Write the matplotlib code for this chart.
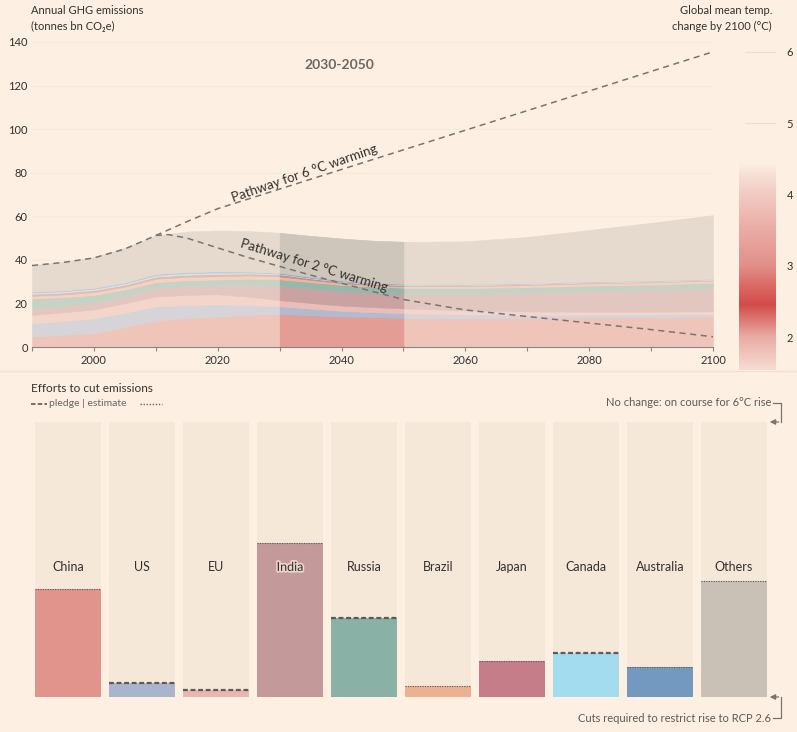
import numpy as np
import matplotlib
matplotlib.use("Agg")
import matplotlib.pyplot as plt
from matplotlib.colors import LinearSegmentedColormap, to_rgb, to_rgba
from matplotlib.lines import Line2D
from matplotlib.patches import FancyArrowPatch
import matplotlib.patheffects as pe

plt.rcParams['font.family'] = ['Lato', 'DejaVu Sans']

# ---------------- data ----------------
years = [1990, 1995, 2000, 2005, 2010, 2015, 2020, 2025, 2030, 2035, 2040, 2045,
         2050, 2060, 2070, 2080, 2090, 2100]
china = [4.8, 5.6, 6.4, 9.2, 12.2, 13.3, 14.0, 14.8, 15.2, 14.6, 14.0, 13.7, 13.4, 13.3, 13.4, 13.6, 13.8, 14.0]
us = [6.1, 6.4, 6.7, 6.6, 6.4, 6.0, 5.6, 4.5, 3.5, 3.0, 2.6, 2.3, 2.1, 1.7, 1.4, 1.3, 1.2, 1.2]
eu = [3.8, 3.9, 4.1, 4.3, 4.6, 4.6, 4.6, 3.8, 2.8, 2.6, 2.4, 2.3, 2.2, 1.8, 1.5, 1.3, 1.2, 1.2]
india = [3.0, 3.0, 3.1, 3.3, 4.0, 4.1, 4.1, 5.4, 6.6, 6.7, 6.7, 6.7, 6.7, 7.6, 8.6, 9.4, 10.0, 10.6]
russia = [4.6, 4.0, 3.6, 3.0, 2.6, 2.7, 2.7, 2.9, 3.0, 2.9, 2.8, 2.8, 2.8, 2.7, 2.6, 2.6, 2.5, 2.5]
brazil = [1.2, 1.2, 1.3, 1.3, 1.5, 1.5, 1.5, 1.4, 1.3, 1.0, 0.8, 0.7, 0.7, 0.8, 0.9, 1.0, 1.0, 1.0]
japan = [0.9, 0.9, 0.9, 0.9, 1.0, 1.0, 1.0, 0.9, 0.9, 0.7, 0.6, 0.5, 0.5, 0.5, 0.5, 0.5, 0.4, 0.4]
canada = [0.6, 0.6, 0.6, 0.6, 0.7, 0.7, 0.7, 0.5, 0.4, 0.3, 0.3, 0.3, 0.3, 0.2, 0.2, 0.2, 0.2, 0.2]
australia = [0.4, 0.4, 0.4, 0.4, 0.5, 0.5, 0.5, 0.4, 0.3, 0.3, 0.3, 0.2, 0.2, 0.2, 0.1, 0.1, 0.1, 0.1]
others = [12.2, 13.0, 14.2, 15.9, 17.7, 18.6, 18.8, 18.6, 18.4, 18.9, 19.3, 19.3, 19.4, 19.7, 21.3, 23.7, 26.6, 29.3]

path6_years = [1990, 1995, 2000, 2005, 2010, 2015, 2020, 2030, 2040, 2050, 2060, 2070, 2080, 2090, 2100]
path6 = [37.4, 38.8, 40.9, 45.0, 51.2, 57.5, 63.5, 72.5, 81.5, 90.5, 99.5, 108.5, 117.5, 126.5, 135.5]
path2_years = [2010, 2012, 2015, 2020, 2025, 2030, 2035, 2040, 2045, 2050, 2060, 2070, 2080, 2090, 2100]
path2 = [51.2, 51.6, 50.0, 45.5, 41.0, 37.0, 33.0, 29.3, 25.5, 21.8, 17.0, 14.0, 11.0, 8.0, 4.7]

countries = ['China', 'US', 'EU', 'India', 'Russia', 'Brazil', 'Japan', 'Canada', 'Australia', 'Others']
cuts = [0.393, 0.051, 0.027, 0.560, 0.287, 0.040, 0.131, 0.160, 0.109, 0.422]
kind = ['estimate', 'pledge', 'pledge', 'estimate', 'pledge', 'estimate', 'estimate', 'pledge', 'estimate', 'estimate']
country_colors = ['#e0948b', '#a9b4cd', '#e9b7b3', '#c4999a', '#8ab1a6', '#ebb190',
                  '#c57d89', '#a2dcee', '#7399c1', '#c9c1b6']

temp_ticks = [2, 3, 4, 5, 6]
y_ticks = [0, 20, 40, 60, 80, 100, 120, 140]
x_major = [2000, 2020, 2040, 2060, 2080, 2100]
x_minor = [1990, 2010, 2030, 2050, 2070, 2090]

# ---------------- figure ----------------
BG = '#fdf0e2'
W, H = 797, 732
fig = plt.figure(figsize=(W / 100, H / 100), dpi=100, facecolor=BG)


def fx(x):
    return x / W


def fy(y):
    return 1 - y / H


def mix(c, a):
    c1 = np.array(to_rgb(c)); c0 = np.array(to_rgb(BG))
    return tuple(a * c1 + (1 - a) * c0)


TXT = '#33302e'

ax = fig.add_axes([fx(32), fy(347), (713 - 32) / W, (347 - 42) / H])
ax.set_facecolor('none')
ax.set_xlim(1990, 2100)
ax.set_ylim(0, 140)

ax.hlines(y_ticks[1:], 1990, 2100, color='#f9e9d9', lw=0.8, zorder=0)

yrs = np.array(years)
band = (yrs >= 2030) & (yrs <= 2050)
layers = [china, us, eu, india, russia, brazil, japan, canada, australia, others]
base = np.zeros(len(years))
for vals, c in zip(layers, country_colors):
    top = base + np.array(vals)
    cl = mix(c, 0.47)
    ax.fill_between(yrs, base, top, color=cl, lw=0.4, edgecolor=cl, zorder=1)
    cd = mix(c, 0.9)
    ax.fill_between(yrs, base, top, where=band, color=cd, lw=0.4, edgecolor=cd, zorder=2)
    base = top

ax.plot(path6_years, path6, color='#7a7470', lw=1.1, dashes=(4, 3), zorder=5)
ax.plot(path2_years, path2, color='#7a7470', lw=1.1, dashes=(4, 3), zorder=5)
ax.text(2034, 79.5, 'Pathway for 6 °C warming', rotation=19, ha='center', va='center',
        fontsize=9.5, color=TXT, zorder=6)
ax.text(2035.5, 37.5, 'Pathway for 2 °C warming', rotation=-17, ha='center', va='center',
        fontsize=9.5, color=TXT, zorder=6)
ax.text(2039.7, 129.5, '2030-2050', ha='center', va='center', fontsize=10,
        fontweight='bold', color='#6d6762')

for s in ['top', 'right', 'left']:
    ax.spines[s].set_visible(False)
ax.spines['bottom'].set_color('#8a8480')
ax.spines['bottom'].set_linewidth(0.8)
ax.set_yticks(y_ticks)
ax.set_yticklabels([str(v) for v in y_ticks])
ax.set_xticks(x_major)
ax.set_xticklabels([str(v) for v in x_major])
ax.set_xticks(x_minor, minor=True)
ax.tick_params(axis='y', length=0, pad=3, labelsize=8, colors=TXT)
ax.tick_params(axis='x', which='both', length=3, width=0.8, color='#8a8480',
               labelsize=8, labelcolor=TXT, pad=3)

# ---------------- temperature colour scale ----------------
cax = fig.add_axes([fx(739), fy(370), (776 - 739) / W, (370 - 42) / H])
cax.set_facecolor('none')
tlo, thi = 1.54, 6.14
cax.set_ylim(tlo, thi)
cax.set_xlim(0, 1)
stops = [(1.54, '#f6dcd3', 1), (2.0, '#e8aca4', 1), (2.45, '#d24c4a', 1), (2.65, '#d8625c', 1),
         (3.0, '#e18f8a', 1), (3.5, '#eaaca5', 1), (4.0, '#f2cbc3', 1), (4.3, '#f8e2d8', 1),
         (4.5, BG, 0)]
t0, t1 = stops[0][0], stops[-1][0]
cmap = LinearSegmentedColormap.from_list(
    'temp', [((t - t0) / (t1 - t0), to_rgba(c, a)) for t, c, a in stops])
grad = np.linspace(0, 1, 256).reshape(-1, 1)
cax.imshow(grad, cmap=cmap, extent=[0, 1, t0, t1], origin='lower', aspect='auto')
cax.hlines([5, 6], 0.15, 1.0, color='#efdfce', lw=0.9)
for s in cax.spines.values():
    s.set_visible(False)
cax.set_xticks([])
cax.set_yticks(temp_ticks)
cax.set_yticklabels([str(t) for t in temp_ticks])
cax.tick_params(axis='y', left=False, right=False, labelleft=False, labelright=True,
                pad=4, labelsize=8, colors=TXT)

# ---------------- header texts ----------------
fig.text(fx(31), fy(10), 'Annual GHG emissions', va='center', fontsize=8, color=TXT)
fig.text(fx(31), fy(26), '(tonnes bn CO₂e)', va='center', fontsize=8, color=TXT)
fig.text(fx(772), fy(10), 'Global mean temp.', ha='right', va='center', fontsize=8, color=TXT)
fig.text(fx(772), fy(26), 'change by 2100 (°C)', ha='right', va='center', fontsize=8, color=TXT)

fig.add_artist(Line2D([0, 1], [fy(371), fy(371)], color='#f2e1cf', lw=1))

# ---------------- bottom panel ----------------
fig.text(fx(31), fy(389), 'Efforts to cut emissions', va='center', fontsize=8.5, color=TXT)
fig.add_artist(Line2D([fx(31), fx(47)], [fy(404), fy(404)], color='#6a6460', lw=1.3, dashes=(2.5, 1.2)))
fig.text(fx(49), fy(403.5), 'pledge | estimate', va='center', fontsize=7.5, color='#6a6460')
fig.add_artist(Line2D([fx(140), fx(162)], [fy(404), fy(404)], color='#6a6460', lw=1.0, dashes=(1, 1.2)))

bx = fig.add_axes([fx(35), fy(697), (767 - 35) / W, (697 - 422) / H])
bx.set_facecolor('none')
bx.set_xlim(-0.446, 9.446)
bx.set_ylim(0, 1)
bx.axis('off')
xs = np.arange(len(countries))
bw = 0.892
bx.bar(xs, [1.0] * len(xs), width=bw, color='#f6e8d8', lw=0)
bx.bar(xs, cuts, width=bw, color=country_colors, lw=0)
for x, v, k, name in zip(xs, cuts, kind, countries):
    if k == 'pledge':
        bx.plot([x - bw / 2, x + bw / 2], [v, v], color='#5e5a58', lw=1.6, dashes=(2.2, 1.2),
                solid_capstyle='butt')
    else:
        bx.plot([x - bw / 2, x + bw / 2], [v, v], color='#5e5a58', lw=0.8, dashes=(1, 1.2))
    t = bx.text(x, 0.473, name, ha='center', va='center', fontsize=9, color=TXT)
    if name == 'India':
        t.set_path_effects([pe.withStroke(linewidth=2.5, foreground='#ead3c8')])

ANN = '#5e5a58'
fig.text(fx(771), fy(403), 'No change: on course for 6°C rise', ha='right', va='center',
         fontsize=8, color=ANN)
fig.add_artist(Line2D([fx(773), fx(781), fx(781)], [fy(403), fy(403), fy(422)], color='#7a7470', lw=0.9))
fig.add_artist(FancyArrowPatch((fx(781.4), fy(422)), (fx(767), fy(422)), transform=fig.transFigure,
                               arrowstyle='-|>', mutation_scale=8, color='#7a7470', lw=0.9))
fig.text(fx(771), fy(718), 'Cuts required to restrict rise to RCP 2.6', ha='right', va='center',
         fontsize=8, color=ANN)
fig.add_artist(Line2D([fx(773), fx(781), fx(781)], [fy(718), fy(718), fy(697)], color='#7a7470', lw=0.9))
fig.add_artist(FancyArrowPatch((fx(781.4), fy(697)), (fx(767), fy(697)), transform=fig.transFigure,
                               arrowstyle='-|>', mutation_scale=8, color='#7a7470', lw=0.9))

fig.savefig('out.png', dpi=100, facecolor=BG)
